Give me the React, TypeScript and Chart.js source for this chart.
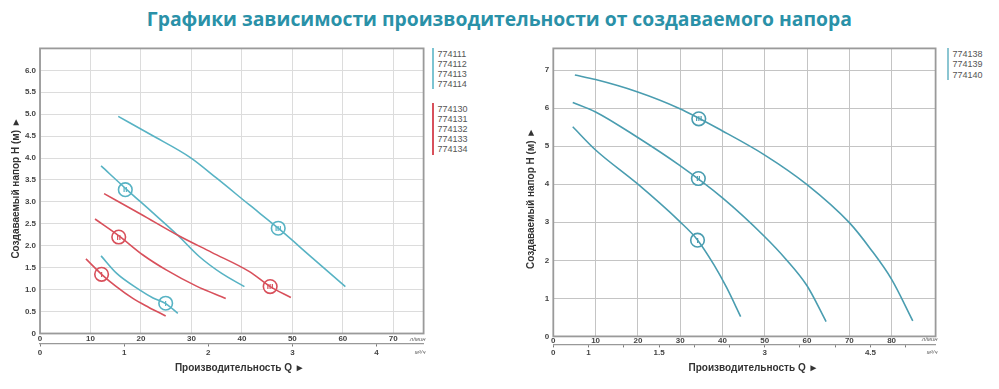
import React, { useEffect, useRef } from "react";
import { Chart, registerables } from "chart.js";

Chart.register(...registerables);

// ---------- texts ----------
const TITLE = "Графики зависимости производительности от создаваемого напора";
const Y_TITLE = "Создаваемый напор H (м) ►";
const X_TITLE = "Производительность Q ►";
const UNIT_LPM = "л/мин";
const UNIT_M3H = "м³/ч";
const LPM_TO_M3H = 0.06;

// ---------- left chart ----------
const LEFT_X_MAX = 76;
const LEFT_Y_MAX = 6.5;
const LEFT_X_TICKS = [0, 10, 20, 30, 40, 50, 60, 70];
const LEFT_X2_TICKS = [0, 1, 2, 3, 4];
const LEFT_Y_TICKS = [0, 0.5, 1, 1.5, 2, 2.5, 3, 3.5, 4, 4.5, 5, 5.5, 6];

const L_TEAL_I_Q = [12.1, 15.2, 19.8, 22.4, 24.9, 27.3];
const L_TEAL_I_H = [1.77, 1.37, 0.99, 0.81, 0.68, 0.46];
const L_TEAL_II_Q = [12.1, 17.3, 22, 27.3, 31.6, 36, 40.5];
const L_TEAL_II_H = [3.82, 3.27, 2.79, 2.24, 1.75, 1.37, 1.07];
const L_TEAL_III_Q = [15.5, 22, 29.8, 35, 41.5, 47.2, 54, 60.5];
const L_TEAL_III_H = [4.95, 4.53, 4.01, 3.54, 2.93, 2.4, 1.72, 1.07];

const L_RED_I_Q = [9.1, 12.2, 15, 18.4, 21.5, 24.9];
const L_RED_I_H = [1.7, 1.35, 1.08, 0.8, 0.6, 0.4];
const L_RED_II_Q = [10.9, 15.7, 20.4, 25, 31, 36.8];
const L_RED_II_H = [2.61, 2.22, 1.79, 1.45, 1.08, 0.8];
const L_RED_III_Q = [12.7, 20, 27.3, 34, 41.5, 45.6, 49.7];
const L_RED_III_H = [3.19, 2.72, 2.24, 1.85, 1.41, 1.07, 0.82];

const MARK_LABELS = ["I", "II", "III"];
const L_TEAL_MARK_Q = [24.9, 16.9, 47.2];
const L_TEAL_MARK_H = [0.69, 3.28, 2.4];
const L_RED_MARK_Q = [12.2, 15.6, 45.6];
const L_RED_MARK_H = [1.35, 2.2, 1.07];

const LEFT_LEGEND_TEAL = ["774111", "774112", "774113", "774114"];
const LEFT_LEGEND_RED = ["774130", "774131", "774132", "774133", "774134"];

// ---------- right chart ----------
const RIGHT_X_MAX = 90.4;
const RIGHT_Y_MAX = 7.57;
const RIGHT_X_TICKS = [0, 10, 20, 30, 40, 50, 60, 70, 80];
const RIGHT_X2_TICKS = [0, 0.5, 1, 1.5, 2, 2.5, 3, 3.5, 4, 4.5, 5];
const RIGHT_X2_LABELS = ["0", "1", "", "1.5", "", "", "3", "", "", "4.5", ""];
const RIGHT_Y_TICKS = [0, 1, 2, 3, 4, 5, 6, 7];

const R_I_Q = [4.6, 10, 19.8, 29.8, 34, 38, 41, 44.3];
const R_I_H = [5.51, 4.9, 4.02, 3.03, 2.55, 1.88, 1.28, 0.52];
const R_II_Q = [4.6, 10, 19.8, 29.8, 40, 50, 55, 60, 64.5];
const R_II_H = [6.15, 5.9, 5.24, 4.5, 3.64, 2.62, 2.03, 1.33, 0.39];
const R_III_Q = [5.1, 10, 19.8, 29.8, 40, 50.1, 60, 70, 75, 80, 85];
const R_III_H = [6.87, 6.75, 6.43, 5.99, 5.4, 4.76, 3.99, 2.99, 2.3, 1.5, 0.41];

const R_MARK_Q = [34.1, 34.3, 34.4];
const R_MARK_H = [2.53, 4.15, 5.72];

const RIGHT_LEGEND = ["774138", "774139", "774140"];

// ---------- styles ----------
const TEAL_L = "#58b3c4";
const RED_L = "#d8505b";
const TEAL_R = "#4a9db0";
const FONT = "'Liberation Sans', Arial, sans-serif";

const pts = (q: number[], h: number[]) => q.map((x, i) => ({ x, y: h[i] }));

const curve = (q: number[], h: number[], color: string) => ({
  data: pts(q, h),
  showLine: true,
  borderColor: color,
  borderWidth: 1.6,
  pointRadius: 0,
  pointHoverRadius: 0,
  cubicInterpolationMode: "monotone",
  xAxisID: "x",
  yAxisID: "y",
});

const markers = (q: number[], h: number[], color: string) => ({
  data: pts(q, h),
  numerals: MARK_LABELS,
  showLine: false,
  pointRadius: 6.8,
  pointBackgroundColor: "#ffffff",
  pointBorderColor: color,
  pointBorderWidth: 1.6,
  xAxisID: "x",
  yAxisID: "y",
});

const framePlugin = {
  id: "frame",
  beforeDatasetsDraw(chart: any, _a: any, o: any) {
    const { ctx, chartArea: a } = chart;
    ctx.save();
    ctx.strokeStyle = o.color;
    ctx.lineWidth = o.width;
    ctx.strokeRect(a.left, a.top, a.right - a.left, a.bottom - a.top);
    ctx.restore();
  },
};

const numeralPlugin = {
  id: "numerals",
  afterDatasetsDraw(chart: any) {
    const ctx = chart.ctx;
    chart.data.datasets.forEach((ds: any, i: number) => {
      if (!ds.numerals) return;
      const meta = chart.getDatasetMeta(i);
      meta.data.forEach((pt: any, j: number) => {
        ctx.save();
        ctx.fillStyle = ds.pointBorderColor;
        ctx.font = `bold 8px ${FONT}`;
        ctx.textAlign = "center";
        ctx.textBaseline = "middle";
        ctx.fillText(ds.numerals[j], pt.x, pt.y + 0.5);
        ctx.restore();
      });
    });
  },
};

const axisTextPlugin = {
  id: "axisText",
  afterDraw(chart: any, _a: any, o: any) {
    const { ctx, chartArea: a } = chart;
    ctx.save();
    ctx.fillStyle = "#333";
    ctx.font = `bold 10px ${FONT}`;
    ctx.textAlign = "center";
    ctx.textBaseline = "middle";
    ctx.fillText(X_TITLE, (a.left + a.right) / 2 + o.xShift, o.xTitleY);
    ctx.translate(o.yTitleX, (a.top + a.bottom) / 2 + o.yShift);
    ctx.rotate(-Math.PI / 2);
    ctx.fillText(Y_TITLE, 0, 0);
    ctx.restore();

    ctx.save();
    ctx.fillStyle = "#666";
    ctx.font = `italic 6px ${FONT}`;
    ctx.textAlign = "right";
    ctx.textBaseline = "middle";
    ctx.fillText(UNIT_LPM, a.right + 2, o.unit1Y);
    ctx.fillText(UNIT_M3H, a.right + 2, o.unit2Y);
    ctx.restore();
  },
};

type Cfg = {
  datasets: any[];
  xMax: number;
  yMax: number;
  xTicks: number[];
  x2Ticks: number[];
  x2Labels?: string[];
  yTicks: number[];
  yFmt: (v: number) => string;
  yWidth: number;
  xHeight: number;
  x2Height: number;
  xPad: number;
  x2Pad: number;
  padTop: number;
  padRight: number;
  gridColor: string;
  frameColor: string;
  text: any;
};

function makeChart(canvas: HTMLCanvasElement, c: Cfg) {
  const tickFont = { family: FONT, size: 8, weight: "bold" as const, lineHeight: 1 };
  return new Chart(canvas, {
    type: "scatter",
    data: { datasets: c.datasets },
    plugins: [framePlugin, numeralPlugin, axisTextPlugin],
    options: {
      animation: false,
      responsive: false,
      maintainAspectRatio: false,
      events: [],
      layout: { padding: { top: c.padTop, right: c.padRight, left: 0, bottom: 0 } },
      plugins: {
        legend: { display: false },
        tooltip: { enabled: false },
        frame: { color: c.frameColor, width: 1.8 },
        axisText: c.text,
      } as any,
      scales: {
        x: {
          type: "linear",
          position: "bottom",
          weight: 0,
          min: 0,
          max: c.xMax,
          afterBuildTicks: (s: any) => {
            s.ticks = c.xTicks.map((v) => ({ value: v }));
          },
          afterFit: (s: any) => {
            s.height = c.xHeight;
          },
          grid: { color: c.gridColor, lineWidth: 1, drawTicks: false },
          border: { display: false },
          ticks: {
            padding: c.xPad,
            font: tickFont,
            color: "#444",
            maxRotation: 0,
            autoSkip: false,
            callback: (v: any) => String(v),
          },
        },
        x2: {
          type: "linear",
          position: "bottom",
          weight: 1,
          min: 0,
          max: c.xMax * LPM_TO_M3H,
          afterBuildTicks: (s: any) => {
            s.ticks = c.x2Ticks.map((v) => ({ value: v }));
          },
          afterFit: (s: any) => {
            s.height = c.x2Height;
          },
          grid: { display: true, drawOnChartArea: false, drawTicks: true, tickLength: 3, color: "#777", lineWidth: 1 },
          border: { display: true, color: "#999", width: 1.2 },
          ticks: {
            padding: c.x2Pad,
            font: tickFont,
            color: "#444",
            maxRotation: 0,
            autoSkip: false,
            callback: (v: any, i: number) => (c.x2Labels ? c.x2Labels[i] : String(v)),
          },
        },
        y: {
          type: "linear",
          position: "left",
          min: 0,
          max: c.yMax,
          afterBuildTicks: (s: any) => {
            s.ticks = c.yTicks.map((v) => ({ value: v }));
          },
          afterFit: (s: any) => {
            s.width = c.yWidth;
          },
          grid: { color: c.gridColor, lineWidth: 1, drawTicks: false },
          border: { display: false },
          ticks: {
            padding: 4,
            font: tickFont,
            color: "#444",
            autoSkip: false,
            callback: (v: any) => c.yFmt(Number(v)),
          },
        },
      } as any,
    } as any,
  });
}

function LeftChart() {
  const ref = useRef<HTMLCanvasElement>(null);
  useEffect(() => {
    const chart = makeChart(ref.current!, {
      datasets: [
        curve(L_RED_I_Q, L_RED_I_H, RED_L),
        curve(L_RED_II_Q, L_RED_II_H, RED_L),
        curve(L_RED_III_Q, L_RED_III_H, RED_L),
        curve(L_TEAL_I_Q, L_TEAL_I_H, TEAL_L),
        curve(L_TEAL_II_Q, L_TEAL_II_H, TEAL_L),
        curve(L_TEAL_III_Q, L_TEAL_III_H, TEAL_L),
        markers(L_RED_MARK_Q, L_RED_MARK_H, RED_L),
        markers(L_TEAL_MARK_Q, L_TEAL_MARK_H, TEAL_L),
      ],
      xMax: LEFT_X_MAX,
      yMax: LEFT_Y_MAX,
      xTicks: LEFT_X_TICKS,
      x2Ticks: LEFT_X2_TICKS,
      yTicks: LEFT_Y_TICKS,
      yFmt: (v) => (v === 0 ? "0" : v.toFixed(1)),
      yWidth: 40,
      xHeight: 10,
      x2Height: 45.5,
      xPad: 1,
      x2Pad: 1.8,
      padTop: 8,
      padRight: 7.7,
      gridColor: "#dcdcdc",
      frameColor: "#9a9a9a",
      text: { xShift: 8, xTitleY: 328, yTitleX: 16, yShift: -3, unit1Y: 299.3, unit2Y: 312.3 },
    });
    return () => chart.destroy();
  }, []);
  return (
    <canvas
      ref={ref}
      width={432}
      height={349}
      style={{ position: "absolute", left: 0, top: 40, width: 432, height: 349 }}
    />
  );
}

function RightChart() {
  const ref = useRef<HTMLCanvasElement>(null);
  useEffect(() => {
    const chart = makeChart(ref.current!, {
      datasets: [
        curve(R_I_Q, R_I_H, TEAL_R),
        curve(R_II_Q, R_II_H, TEAL_R),
        curve(R_III_Q, R_III_H, TEAL_R),
        markers(R_MARK_Q, R_MARK_H, TEAL_R),
      ],
      xMax: RIGHT_X_MAX,
      yMax: RIGHT_Y_MAX,
      xTicks: RIGHT_X_TICKS,
      x2Ticks: RIGHT_X2_TICKS,
      x2Labels: RIGHT_X2_LABELS,
      yTicks: RIGHT_Y_TICKS,
      yFmt: (v) => String(v),
      yWidth: 53.3,
      xHeight: 8,
      x2Height: 44.6,
      xPad: 0,
      x2Pad: 0.9,
      padTop: 8.3,
      padRight: 5.7,
      gridColor: "#c4c4c4",
      frameColor: "#9a9a9a",
      text: { xShift: 9, xTitleY: 328, yTitleX: 31.7, yShift: 6, unit1Y: 299.3, unit2Y: 312.3 },
    });
    return () => chart.destroy();
  }, []);
  return (
    <canvas
      ref={ref}
      width={444}
      height={349}
      style={{ position: "absolute", left: 500, top: 40, width: 444, height: 349 }}
    />
  );
}

function Legend({ items, color, left, top, barHeight, step }: any) {
  return (
    <div style={{ position: "absolute", left, top, height: barHeight }}>
      <div style={{ position: "absolute", left: 0, top: 0, width: 2, height: barHeight, background: color }} />
      {items.map((t: string, i: number) => (
        <div
          key={t}
          style={{
            position: "absolute",
            left: 6,
            top: 1 + i * step,
            height: 10,
            lineHeight: "10px",
            fontFamily: FONT,
            fontSize: 9,
            color: "#555",
            whiteSpace: "nowrap",
          }}
        >
          {t}
        </div>
      ))}
    </div>
  );
}

function Title() {
  const ref = useRef<HTMLSpanElement>(null);
  useEffect(() => {
    const fit = () => {
      const el = ref.current;
      if (!el) return;
      el.style.transform = "none";
      const w = el.getBoundingClientRect().width;
      if (w > 0) el.style.transform = `scaleX(${705 / w})`;
    };
    fit();
    (document as any).fonts?.ready?.then(fit);
  }, []);
  return (
    <div
      style={{
        position: "absolute",
        left: 0,
        top: 9,
        width: 999,
        textAlign: "center",
        lineHeight: "20px",
        height: 20,
      }}
    >
      <span
        ref={ref}
        style={{
          display: "inline-block",
          fontFamily: "'Open Sans', sans-serif",
          fontWeight: 700,
          fontSize: 20,
          color: "#2a91a8",
          whiteSpace: "nowrap",
          transformOrigin: "center",
        }}
      >
        {TITLE}
      </span>
    </div>
  );
}

export default function App() {
  return (
    <div style={{ position: "absolute", left: 0, top: 0, width: 999, height: 389, background: "#fff", overflow: "hidden" }}>
      <Title />
      <LeftChart />
      <RightChart />
      <Legend items={LEFT_LEGEND_TEAL} color="#7cc4d2" left={431.5} top={48} barHeight={41} step={10} />
      <Legend items={LEFT_LEGEND_RED} color="#d8505b" left={431.5} top={103} barHeight={52} step={10} />
      <Legend items={RIGHT_LEGEND} color="#8cc6d2" left={946.5} top={48} barHeight={31.5} step={10.3} />
    </div>
  );
}
